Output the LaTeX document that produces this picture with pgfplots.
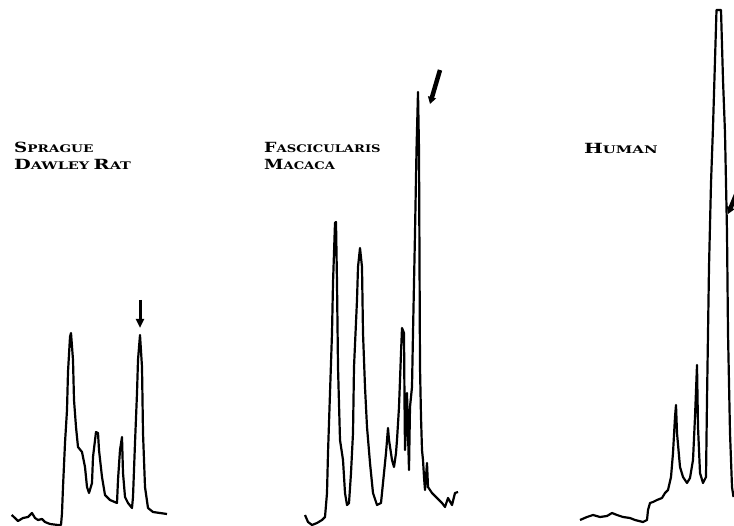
\documentclass[border=0pt]{standalone}
\usepackage{pgfplots}
\pgfplotsset{compat=1.18}
\usepackage{fontspec}
\setmainfont{DejaVu Serif}
\usetikzlibrary{arrows.meta}
\newcommand{\BigS}[2]{{\fontsize{14}{14}\selectfont\bfseries #1}{\fontsize{10.5}{10.5}\selectfont\bfseries #2}}
\begin{document}
\begin{tikzpicture}
\begin{axis}[
  scale only axis, width=734pt, height=526pt,
  xmin=0, xmax=734, ymin=0, ymax=526, y dir=reverse,
  hide axis, clip=false,
]
% Sprague Dawley Rat
\addplot[black, line width=2.2pt, line join=round] table {
x y
11.7 515
15 518
18 521
23 518
28 517
32 513
35 518
38 520
42 519
45 522
50 524
58 525
61 525
62 513
63 487
65 443
67 410
68 372
70 337
71 333
73 360
74 400
76 427
78 447
82 452
85 467
87 487
89 493
92 483
93 457
96 432
98 433
99 450
102 477
105 495
110 500
117 503
118 480
120 450
122 437
123 473
125 497
128 503
132 508
133 497
135 443
137 393
138 360
140 335
142 367
143 433
145 487
148 508
153 512
160 513
167 514
};
% Fascicularis Macaca
\addplot[black, line width=2.2pt, line join=round] table {
x y
305 515
308 522
312 525
317 523
322 520
325 517
327 493
328 453
330 393
332 333
333 283
335 223
336 222
337 283
338 367
340 440
343 460
345 493
347 505
349 503
351 473
353 433
354 367
357 300
358 267
360 248
362 267
363 333
365 387
367 427
370 463
373 493
377 505
381 503
383 483
386 453
388 428
389 440
392 460
394 467
396 453
397 440
399 407
401 353
402 328
404 333
404.5 400
405 450
406 427
407 393
408 433
409 470
410 407
412 387
413 333
415 233
416.5 150
418 92
419 150
419.5 260
420 367
421 417
422 450
423 460
424 477
425 490
427 463
428 487
432 493
437 498
442 503
445 507
448 498
452 505
455 493
458 492
};
% Human
\addplot[black, line width=2.2pt, line join=round] table {
x y
580 520
587 517
593 515
600 517
607 516
612 513
617 515
623 517
630 518
635 520
643 522
647 520
648 510
650 503
653 502
657 500
662 498
665 493
668 490
671 477
673 453
675 417
676 405
677 433
680 467
683 477
687 483
690 478
693 460
695 417
697 365
698 427
700 473
703 483
706 477
707 400
709 267
711 183
713 127
715 60
716.5 10
721 10
722 45
723 80
725 133
727 233
728 333
730 433
732 487
733.5 497
};
\node[anchor=base west, inner sep=0] at (axis cs:14,153)
  {\scalebox{1.3}[1]{\BigS{S}{PRAGUE}}};
\node[anchor=base west, inner sep=0] at (axis cs:14,170)
  {\scalebox{1.38}[1]{\BigS{D}{AWLEY}\ \BigS{R}{AT}}};
\node[anchor=base west, inner sep=0] at (axis cs:264,153)
  {\scalebox{1.25}[1]{\BigS{F}{ASCICULARIS}}};
\node[anchor=base west, inner sep=0] at (axis cs:264,170)
  {\scalebox{1.25}[1]{\BigS{M}{ACACA}}};
\node[anchor=base west, inner sep=0] at (axis cs:584,154)
  {\scalebox{1.42}[1]{\BigS{H}{UMAN}}};
% arrows
\draw[line width=3pt, -{Triangle[length=9pt,width=8pt]}] (axis cs:140,300) -- (axis cs:140,328);
\draw[line width=4.5pt, -{Triangle[length=7pt,width=8pt]}] (axis cs:440,70) -- (axis cs:430,104);
\draw[line width=4.5pt, -{Triangle[length=7pt,width=8pt]}] (axis cs:738,190) -- (axis cs:728,214);
\end{axis}
\pgfresetboundingbox
\path[use as bounding box] (current axis.south west) rectangle (current axis.north east);
\end{tikzpicture}
\end{document}
